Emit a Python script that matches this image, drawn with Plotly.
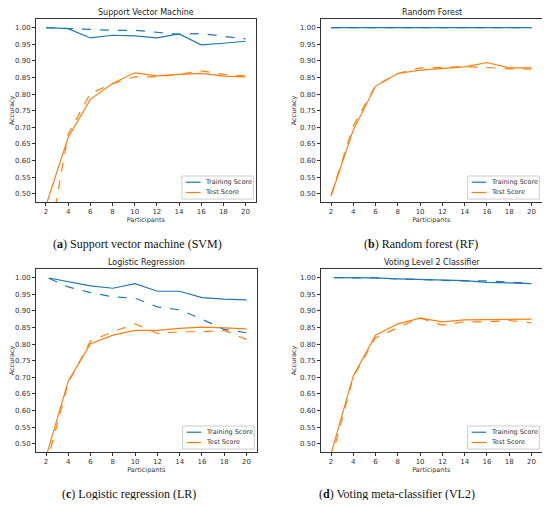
import plotly.graph_objects as go

# participants on the x axis
participants = [2, 4, 6, 8, 10, 12, 14, 16, 18, 20]
# training curves of LR and VL2 start a bit right of 2
train_x_late = [2.25, 4, 6, 8, 10, 12, 14, 16, 18, 20]

# Support Vector Machine
svm_train = [1.000, 0.997, 0.969, 0.977, 0.975, 0.969, 0.981, 0.948, 0.953, 0.959]
svm_train_b = [1.000, 0.997, 0.993, 0.992, 0.992, 0.986, 0.980, 0.982, 0.974, 0.966]
svm_test = [0.465, 0.669, 0.784, 0.832, 0.864, 0.855, 0.859, 0.862, 0.854, 0.852]
svm_test_b = [0.300, 0.679, 0.802, 0.831, 0.852, 0.852, 0.859, 0.870, 0.859, 0.855]

# Random Forest
rf_train = [1.000, 1.000, 1.000, 1.000, 1.000, 1.000, 1.000, 1.000, 1.000, 1.000]
rf_train_b = [1.000, 1.000, 1.000, 1.000, 1.000, 1.000, 1.000, 1.000, 1.000, 1.000]
rf_test = [0.493, 0.692, 0.824, 0.862, 0.872, 0.876, 0.882, 0.895, 0.879, 0.879]
rf_test_b = [0.495, 0.704, 0.826, 0.862, 0.879, 0.880, 0.882, 0.880, 0.876, 0.875]

# Logistic Regression
lr_train = [0.999, 0.988, 0.975, 0.968, 0.982, 0.959, 0.959, 0.940, 0.935, 0.933]
lr_train_b = [0.998, 0.972, 0.955, 0.942, 0.938, 0.912, 0.903, 0.875, 0.844, 0.834]
lr_test = [0.460, 0.689, 0.801, 0.827, 0.841, 0.841, 0.847, 0.851, 0.849, 0.846]
lr_test_b = [0.433, 0.684, 0.809, 0.837, 0.861, 0.832, 0.837, 0.837, 0.841, 0.814]

# Voting Level 2 Classifier
vl2_train = [1.000, 1.000, 0.999, 0.996, 0.995, 0.993, 0.991, 0.986, 0.984, 0.982]
vl2_train_b = [1.000, 1.000, 0.999, 0.996, 0.995, 0.992, 0.990, 0.990, 0.987, 0.982]
vl2_test = [0.470, 0.704, 0.827, 0.861, 0.878, 0.867, 0.873, 0.874, 0.873, 0.875]
vl2_test_b = [0.450, 0.701, 0.819, 0.849, 0.879, 0.857, 0.867, 0.867, 0.871, 0.864]

titles = ["Support Vector Machine", "Random Forest",
          "Logistic Regression", "Voting Level 2 Classifier"]
captions = ["(<b>a</b>) Support vector machine (SVM)", "(<b>b</b>) Random forest (RF)",
            "(<b>c</b>) Logistic regression (LR)", "(<b>d</b>) Voting meta-classifier (VL2)"]
legend_names = ["Training Score", "Test Score"]

BLUE = "#1f77b4"
ORANGE = "#ff7f0e"
# the page body keeps an 8px margin: the figure is 534x492 and sits 8px in,
# so the left column / top row are nudged in and the bottom row nudged up
PAD = 8
W, H = 550 - 2 * PAD, 508 - 2 * PAD
col_off = [4, 0]
row_off = [6, -3]

# pixel boxes of the four axes in the reference (left, right, top, bottom)
boxes = [(32, 252, 13, 196), (321, 542, 13, 196),
         (32, 253, 272, 455), (321, 542, 272, 455)]
caption_x = [133, 421, 125, 397]
caption_y = [238, 238, 497, 497]

panels = [
    (participants, svm_train, svm_train_b, svm_test, svm_test_b),
    (participants, rf_train, rf_train_b, rf_test, rf_test_b),
    (train_x_late, lr_train, lr_train_b, lr_test, lr_test_b),
    (train_x_late, vl2_train, vl2_train_b, vl2_test, vl2_test_b),
]

fig = go.Figure()
annotations = []
shapes = []
layout = {}

for i, (tx, tr, tr_b, te, te_b) in enumerate(panels):
    n = "" if i == 0 else str(i + 1)
    xa, ya = "x" + n, "y" + n
    fig.add_trace(go.Scatter(x=tx, y=tr, mode="lines", name="Training Score",
                             line=dict(color=BLUE, width=1.2), xaxis=xa, yaxis=ya))
    fig.add_trace(go.Scatter(x=participants, y=te, mode="lines", name="Test Score",
                             line=dict(color=ORANGE, width=1.2), xaxis=xa, yaxis=ya))
    fig.add_trace(go.Scatter(x=tx, y=tr_b, mode="lines",
                             line=dict(color=BLUE, width=1.2, dash="dash"),
                             xaxis=xa, yaxis=ya))
    fig.add_trace(go.Scatter(x=participants, y=te_b, mode="lines",
                             line=dict(color=ORANGE, width=1.2, dash="dash"),
                             xaxis=xa, yaxis=ya))

    cx, cy = col_off[i % 2], row_off[i // 2]

    def fx(v):
        return min(1.0, (v + cx - PAD) / W)

    def fy(v):
        return 1 - (v + cy - PAD) / H

    l, r, t, b = boxes[i]
    axis_common = dict(showline=True, mirror=True, linecolor="#333", linewidth=0.9,
                       ticks="outside", ticklen=3, tickwidth=0.8, tickcolor="#333",
                       showgrid=False, zeroline=False,
                       tickfont=dict(size=7, color="#333"))
    layout["xaxis" + n] = dict(axis_common, domain=[fx(l), fx(r - 0.5)], anchor=ya,
                               range=[1.1, 20.9], tickvals=participants,
                               title=dict(text="Participants", standoff=2,
                                          font=dict(size=6.5, color="#333")))
    layout["yaxis" + n] = dict(axis_common, domain=[fy(b), fy(t)], anchor=xa,
                               range=[0.475, 1.026], dtick=0.05, tick0=0.5,
                               tickformat=".2f",
                               title=dict(text="Accuracy", standoff=2,
                                          font=dict(size=6.5, color="#333")))

    # legend box in the lower right of each axes
    xd, yd = xa + " domain", ya + " domain"
    shapes.append(dict(type="rect", xref=xd, yref=yd, x0=0.665, x1=0.99, y0=0.016, y1=0.142,
                       line=dict(color="#cccccc", width=1), fillcolor="rgba(255,255,255,0.8)",
                       layer="above"))
    for k, (col, yy) in enumerate([(BLUE, 0.108), (ORANGE, 0.052)]):
        shapes.append(dict(type="line", xref=xd, yref=yd, x0=0.683, x1=0.75, y0=yy, y1=yy,
                           line=dict(color=col, width=1.2), layer="above"))
        annotations.append(dict(text=legend_names[k], xref=xd, yref=yd, x=0.762, y=yy,
                                xanchor="left", yanchor="middle", showarrow=False,
                                font=dict(size=6.5, color="#333")))

    annotations.append(dict(text=titles[i], x=(fx(l) + fx(r)) / 2, y=fy(t - 6.3),
                            xref="paper", yref="paper", xanchor="center", yanchor="middle",
                            showarrow=False, font=dict(size=8, color="#222")))
    annotations.append(dict(text=captions[i], x=fx(caption_x[i]), y=fy(caption_y[i]),
                            xref="paper", yref="paper", xanchor="center", yanchor="middle",
                            showarrow=False,
                            font=dict(size=12, color="#111", family="Liberation Serif")))

fig.update_layout(**layout)
fig.update_layout(width=W, height=H, margin=dict(l=0, r=0, t=0, b=0),
                  plot_bgcolor="white", paper_bgcolor="white", showlegend=False,
                  font=dict(family="DejaVu Sans", color="#333"),
                  annotations=annotations, shapes=shapes)

fig.write_html("out.html")
